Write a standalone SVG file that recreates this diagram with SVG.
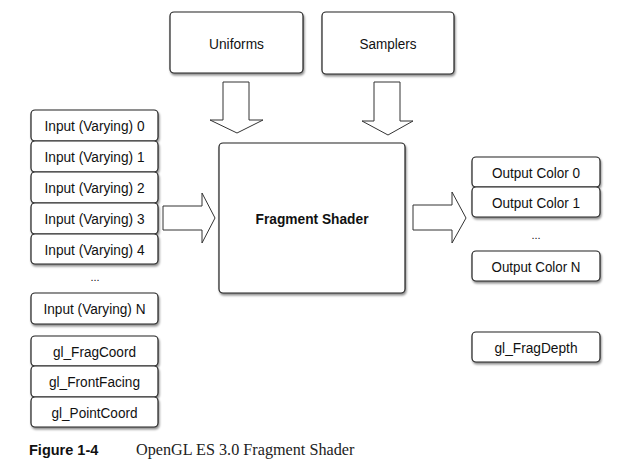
<svg xmlns="http://www.w3.org/2000/svg" width="622" height="467" viewBox="0 0 622 467">
<style>
.box{fill:#fff;stroke:#222;stroke-width:1.2;filter:url(#sh)}
.t{font-family:"Liberation Sans",Arial,sans-serif;font-size:15.5px;fill:#111;text-anchor:middle;dominant-baseline:central}
.b{font-weight:bold}
.arrow{fill:#fff;stroke:#333;stroke-width:1}
.dots{font-family:"Liberation Sans",Arial,sans-serif;font-size:11px;fill:#111;text-anchor:middle}
</style>
<defs>
<filter id="sh" x="-20%" y="-20%" width="140%" height="160%">
<feDropShadow dx="1" dy="2" stdDeviation="1.3" flood-color="#000" flood-opacity="0.45"/>
</filter>
</defs>
<rect width="622" height="467" fill="#fff"/>
<g id="connectors">
<polygon class="arrow" points="223,82 249,82 249,120 263,120 237,133 210,120 223,120"/>
<polygon class="arrow" points="374,82 400,82 400,121 413,121 388,135 362,121 374,121"/>
<polygon class="arrow" points="163,206 202,206 202,193 215,218 202,243 202,230 163,230"/>
<polygon class="arrow" points="413,205 452,205 452,192 466,218 452,243 452,230 413,230"/>
</g>
<g id="uniforms"><rect class="box" x="170" y="12" width="133" height="61" rx="4"/><text class="t" x="236.5" y="43" textLength="55" lengthAdjust="spacingAndGlyphs">Uniforms</text></g>
<g id="samplers"><rect class="box" x="322" y="12" width="132" height="62" rx="4"/><text class="t" x="388" y="43" textLength="57" lengthAdjust="spacingAndGlyphs">Samplers</text></g>
<g id="fragment-shader"><rect class="box" x="219" y="143" width="186" height="150" rx="4"/><text class="t b" x="312" y="218" textLength="113" lengthAdjust="spacingAndGlyphs">Fragment Shader</text></g>
<g id="input0"><rect class="box" x="31" y="110" width="127" height="31" rx="4"/><text class="t" x="94.5" y="125.5" textLength="100" lengthAdjust="spacingAndGlyphs">Input (Varying) 0</text></g>
<g id="input1"><rect class="box" x="31" y="141" width="127" height="31" rx="4"/><text class="t" x="94.5" y="156.5" textLength="100" lengthAdjust="spacingAndGlyphs">Input (Varying) 1</text></g>
<g id="input2"><rect class="box" x="31" y="172" width="127" height="31" rx="4"/><text class="t" x="94.5" y="187.5" textLength="100" lengthAdjust="spacingAndGlyphs">Input (Varying) 2</text></g>
<g id="input3"><rect class="box" x="31" y="203" width="127" height="31" rx="4"/><text class="t" x="94.5" y="218.5" textLength="100" lengthAdjust="spacingAndGlyphs">Input (Varying) 3</text></g>
<g id="input4"><rect class="box" x="31" y="234" width="127" height="30" rx="4"/><text class="t" x="94.5" y="249" textLength="100" lengthAdjust="spacingAndGlyphs">Input (Varying) 4</text></g>
<text class="dots" x="95" y="281">...</text>
<g id="inputN"><rect class="box" x="31" y="293" width="127" height="31" rx="4"/><text class="t" x="94.5" y="308.5" textLength="102" lengthAdjust="spacingAndGlyphs">Input (Varying) N</text></g>
<g id="gl-fragcoord"><rect class="box" x="31" y="336" width="127" height="30" rx="4"/><text class="t" x="94.5" y="351" textLength="83" lengthAdjust="spacingAndGlyphs">gl_FragCoord</text></g>
<g id="gl-frontfacing"><rect class="box" x="31" y="366" width="127" height="31" rx="4"/><text class="t" x="94.5" y="381.5" textLength="91" lengthAdjust="spacingAndGlyphs">gl_FrontFacing</text></g>
<g id="gl-pointcoord"><rect class="box" x="31" y="397" width="127" height="30" rx="4"/><text class="t" x="94.5" y="412" textLength="86" lengthAdjust="spacingAndGlyphs">gl_PointCoord</text></g>
<g id="output0"><rect class="box" x="472" y="157" width="128" height="30" rx="4"/><text class="t" x="536" y="172" textLength="88" lengthAdjust="spacingAndGlyphs">Output Color 0</text></g>
<g id="output1"><rect class="box" x="472" y="187" width="128" height="30" rx="4"/><text class="t" x="536" y="202" textLength="88" lengthAdjust="spacingAndGlyphs">Output Color 1</text></g>
<text class="dots" x="536" y="239">...</text>
<g id="outputN"><rect class="box" x="472" y="251" width="128" height="30" rx="4"/><text class="t" x="536" y="266" textLength="89" lengthAdjust="spacingAndGlyphs">Output Color N</text></g>
<g id="gl-fragdepth"><rect class="box" x="472" y="332" width="128" height="30" rx="4"/><text class="t" x="536" y="347" textLength="83" lengthAdjust="spacingAndGlyphs">gl_FragDepth</text></g>
<text x="29" y="455" style="font-family:'Liberation Sans',Arial,sans-serif;font-size:14.5px;font-weight:bold;fill:#111">Figure 1-4</text>
<text x="136" y="455" style="font-family:'Liberation Serif','Times New Roman',serif;font-size:16.2px;fill:#222">OpenGL ES 3.0 Fragment Shader</text>
</svg>
